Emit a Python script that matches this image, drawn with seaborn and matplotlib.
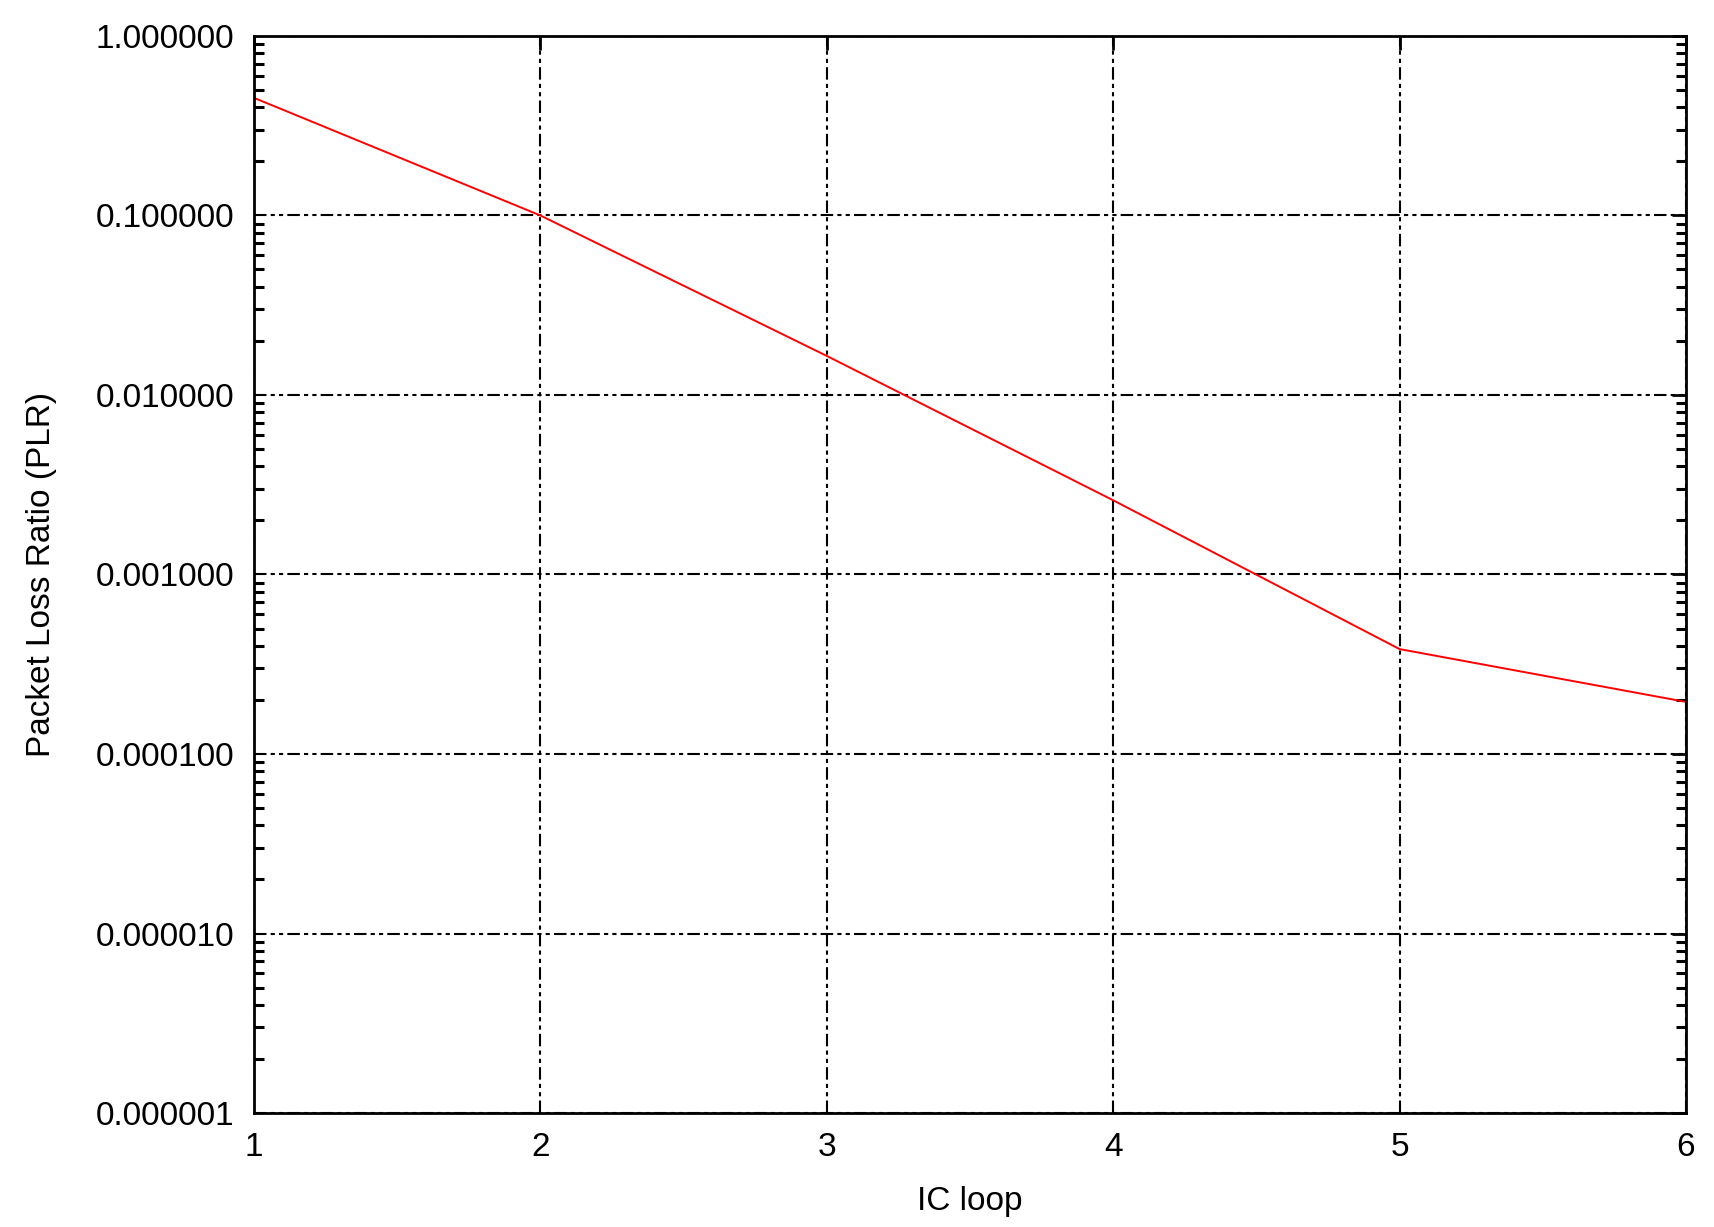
#-- packet loss ratio vs IC loop --
import matplotlib
matplotlib.use('Agg')
import matplotlib.pyplot as plt
import matplotlib.ticker as mticker
import pandas as pd
import seaborn as sns

#--data--
ic_loop = [1, 2, 3, 4, 5, 6]
plr     = [0.452, 0.100, 0.0165, 0.00259, 0.000384, 0.000195]
ytick_values = [1e-6, 1e-5, 1e-4, 1e-3, 1e-2, 1e-1, 1.0]

sns.set_theme(style='white')
plt.rcParams.update({'font.family'      : ['Liberation Sans', 'DejaVu Sans'],
                     'font.size'        : 24,
                     'axes.labelsize'   : 24,
                     'xtick.labelsize'  : 24,
                     'ytick.labelsize'  : 24,
                     'axes.linewidth'   : 2.0,
                     'axes.edgecolor'   : 'black',
                     'text.color'       : 'black',
                     'axes.labelcolor'  : 'black'})

df = pd.DataFrame({'IC loop': ic_loop, 'Packet Loss Ratio (PLR)': plr})

fig = plt.figure(figsize=(17.14, 12.27), dpi=100)
ax = fig.add_axes([0.1482, 0.0929, 0.9837 - 0.1482, 0.9707 - 0.0929])

sns.lineplot(x='IC loop', y='Packet Loss Ratio (PLR)', data=df, color='red',
             linewidth=1.4, ax=ax)

ax.set_yscale('log')
ax.set_xlim(1, 6)
ax.set_ylim(1e-6, 1.0)
ax.set_xticks(ic_loop)
ax.set_yticks(ytick_values)
ax.yaxis.set_major_formatter(mticker.FormatStrFormatter('%.6f'))
ax.yaxis.set_minor_locator(mticker.LogLocator(base=10, subs=range(2, 10), numticks=20))
ax.yaxis.set_minor_formatter(mticker.NullFormatter())

ax.grid(True, which='major', color='black', linewidth=1.5,
        linestyle=(0, (6, 2, 2, 2, 2, 2)))
ax.tick_params(which='major', direction='in', length=10, width=2,
               top=True, right=True, pad=14, colors='black')
ax.tick_params(which='minor', direction='in', length=7, width=2.2,
               left=True, right=True, colors='black')
for s in ax.spines.values():
    s.set_color('black')

ax.set_xlabel('IC loop', labelpad=16)
ax.set_ylabel('Packet Loss Ratio (PLR)', labelpad=28)

fig.savefig('out.png', dpi=100)
